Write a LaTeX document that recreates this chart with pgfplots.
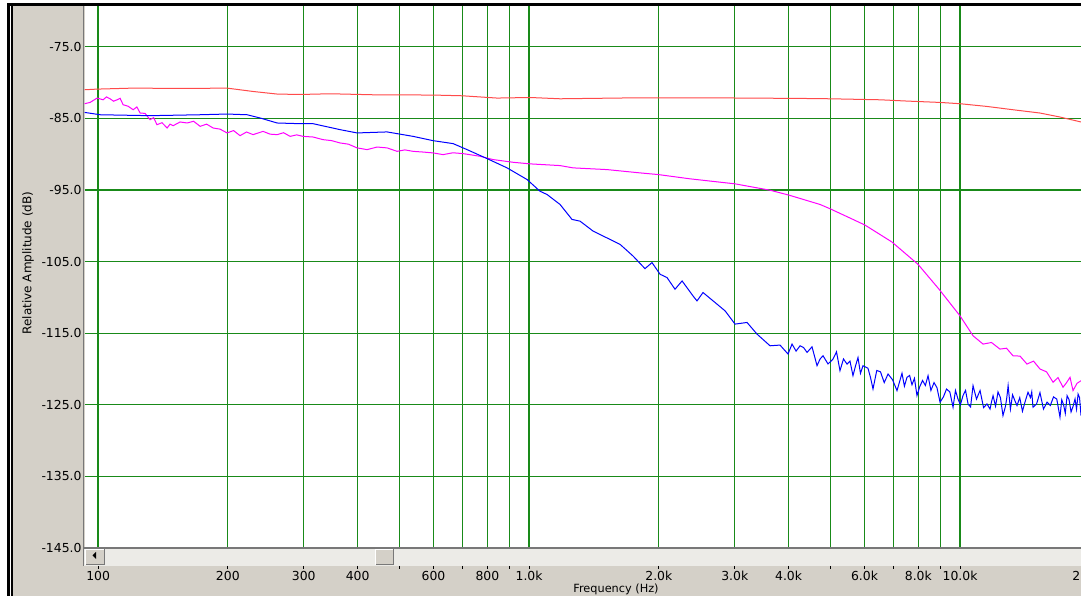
\documentclass[border=0pt]{standalone}
\usepackage{pgfplots}
\pgfplotsset{compat=1.18}
\usepackage{fontspec}
\setmainfont{DejaVu Sans}
\definecolor{panel}{RGB}{212,208,200}
\definecolor{gridgreen}{RGB}{25,138,25}
\definecolor{cred}{RGB}{255,75,75}
\definecolor{cmag}{RGB}{255,0,255}
\definecolor{cblue}{RGB}{0,0,255}
\definecolor{sbar}{RGB}{236,235,231}
\definecolor{darkedge}{RGB}{120,120,120}
\newcommand{\lbl}{\fontsize{11.3}{13}\selectfont}
\newcommand{\tlbl}{\fontsize{12.4}{14}\selectfont}

\pgfplotstableread{
f db
93.0 -81.00
99.5 -80.91
120.6 -80.77
157.5 -80.82
199.2 -80.77
228.9 -81.24
260.2 -81.60
294.3 -81.66
345.3 -81.56
434.6 -81.70
598.8 -81.74
699.1 -81.84
842.8 -82.16
1005 -82.08
1180 -82.26
1809 -82.12
2494 -82.12
4254 -82.21
4994 -82.26
6522 -82.40
7534 -82.58
8988 -82.77
10000 -82.95
11550 -83.33
13270 -83.79
15330 -84.25
17060 -84.81
19090 -85.50
}\redtab

\pgfplotstableread{
f db
93.0 -82.95
95.8 -82.77
99.5 -82.16
102.7 -82.40
104.6 -82.00
106.6 -82.26
108.6 -82.60
110.7 -82.40
112.5 -82.20
114.3 -83.09
117.4 -83.30
120.6 -83.79
123.0 -83.40
125.2 -84.25
128.5 -84.30
132.0 -85.18
134.5 -84.90
137.0 -85.88
140.7 -85.60
144.6 -86.34
146.9 -85.80
149.3 -86.02
155.0 -85.50
160.9 -85.64
166.6 -85.40
172.5 -86.11
178.6 -85.80
184.9 -86.34
191.9 -86.50
199.2 -87.03
206.2 -86.70
213.5 -87.41
221.0 -86.90
228.9 -87.27
241.4 -86.81
250.6 -87.20
260.2 -87.27
269.4 -87.00
279.0 -87.51
289.0 -87.30
299.0 -87.51
315.4 -87.60
332.7 -87.97
348.0 -88.10
364.3 -88.43
381.0 -88.60
399.0 -89.12
420.9 -89.36
444.0 -89.00
468.3 -89.12
494.0 -89.60
515.0 -89.40
538.2 -89.60
568.0 -89.70
598.8 -89.82
631.7 -90.06
666.0 -89.80
702.9 -89.92
735.0 -90.10
769.6 -90.29
825.0 -90.75
918.3 -91.13
1005 -91.35
1180 -91.59
1265 -91.91
1517 -92.15
1809 -92.61
1992 -92.84
2363 -93.44
3006 -94.14
3624 -95.03
4011 -95.72
4733 -97.02
4994 -97.62
5645 -99.11
6019 -99.90
6954 -102.27
7991 -105.38
8940 -108.86
10000 -112.58
10720 -115.36
11310 -116.52
11830 -116.30
12380 -117.22
12820 -117.10
13270 -118.15
13780 -118.20
14300 -119.31
14810 -118.90
15330 -120.00
15880 -120.40
16440 -121.85
16880 -121.20
17340 -122.55
17670 -121.90
18000 -121.16
18290 -123.02
18690 -122.00
19090 -121.63
}\magtab

\pgfplotstableread{
f db
93.0 -84.16
101.1 -84.49
132.0 -84.62
172.5 -84.49
199.2 -84.39
221.7 -84.49
237.6 -84.94
260.2 -85.64
294.3 -85.74
315.4 -85.74
364.3 -86.57
399.0 -87.03
468.3 -86.89
538.2 -87.51
598.8 -88.11
666.4 -88.52
718.0 -89.36
799.0 -90.61
889.1 -91.91
989.5 -93.54
1060 -95.17
1101 -95.63
1180 -97.02
1258 -99.11
1313 -99.35
1408 -100.74
1541 -101.90
1626 -102.59
1743 -104.22
1858 -105.98
1929 -105.14
2014 -106.77
2090 -107.23
2181 -108.86
2265 -107.70
2401 -109.79
2453 -110.49
2533 -109.32
2731 -110.95
2850 -111.88
3006 -113.73
3205 -113.50
3381 -115.13
3624 -116.76
3823 -116.66
3990 -117.91
4076 -116.52
4165 -117.50
4254 -116.76
4335 -117.00
4416 -117.68
4535 -116.90
4658 -119.54
4735 -118.60
4810 -118.15
4940 -119.30
5074 -118.61
5169 -117.60
5266 -120.24
5365 -118.60
5467 -119.31
5555 -118.90
5645 -120.93
5720 -119.60
5798 -118.40
5875 -120.60
5955 -119.54
6116 -119.90
6200 -121.20
6282 -122.79
6410 -120.20
6539 -120.40
6670 -121.90
6808 -120.70
6973 -121.50
7142 -123.02
7335 -120.60
7430 -122.40
7534 -121.16
7640 -120.90
7738 -122.20
7840 -121.30
7947 -123.72
8060 -122.50
8185 -121.60
8310 -122.30
8430 -120.93
8560 -123.00
8704 -121.90
8840 -122.60
8988 -124.64
9150 -123.90
9305 -122.80
9470 -123.20
9634 -125.34
9760 -123.00
9893 -124.20
10020 -125.00
10160 -123.72
10300 -123.00
10440 -124.90
10580 -125.30
10720 -122.33
10920 -124.20
11130 -123.00
11340 -125.40
11550 -124.88
11740 -125.60
11830 -124.60
11930 -123.72
12090 -125.20
12250 -123.20
12410 -124.00
12580 -126.51
12750 -125.20
12840 -124.00
12930 -122.33
13090 -125.60
13240 -123.60
13400 -124.40
13560 -125.11
13760 -124.00
13960 -125.90
14170 -124.50
14380 -123.25
14570 -124.00
14670 -123.20
14770 -125.34
15050 -124.90
15330 -123.30
15620 -125.60
15920 -124.64
16200 -125.10
16480 -123.90
16770 -124.20
17060 -126.73
17220 -124.30
17390 -125.00
17550 -126.20
17720 -123.72
17910 -124.30
18100 -126.00
18300 -125.20
18490 -124.18
18640 -125.60
18790 -123.50
18940 -124.00
19090 -126.51
}\bluetab

\begin{document}
\begin{tikzpicture}
\fill[white] (0pt,0pt) rectangle (1081pt,596pt);
\fill[panel] (12pt,0pt) rectangle (1081pt,590pt);
\fill[black] (7pt,0pt) rectangle (9.5pt,592.5pt);
\fill[black] (11pt,0pt) rectangle (12.5pt,592.5pt);
\fill[black] (7pt,589.5pt) rectangle (1081pt,592.5pt);
\draw[darkedge, line width=1pt] (83pt,30pt) -- (83pt,590pt);

\begin{axis}[
  at={(84.5pt,48pt)}, anchor=south west,
  scale only axis, width=996.5pt, height=542pt,
  xmode=log, xmin=93, xmax=19090,
  ymin=-145, ymax=-69.3,
  axis background/.style={fill=white},
  axis line style={draw=none},
  xtick={100,200,300,400,500,600,700,800,900,1000,2000,3000,4000,5000,6000,7000,8000,9000,10000},
  xticklabels={},
  ytick={-145,-135,-125,-115,-105,-95,-85,-75},
  yticklabels={-145.0,-135.0,-125.0,-115.0,-105.0,-95.0,-85.0,-75.0},
  grid=major,
  major grid style={color=gridgreen, line width=1.3pt},
  tick style={draw=none},
  yticklabel style={font=\tlbl, anchor=east, xshift=0.5pt},
  /pgf/number format/assume math mode=true,
]
\addplot[cred, line width=1pt] table[x=f, y=db] {\redtab};
\addplot[cmag, line width=1pt] table[x=f, y=db] {\magtab};
\addplot[cblue, line width=1pt] table[x=f, y=db] {\bluetab};
\end{axis}

% scrollbar
\fill[sbar] (84pt,30pt) rectangle (1081pt,48pt);
\draw[darkedge, line width=1.2pt] (84pt,48pt) -- (1081pt,48pt);
\fill[panel] (85pt,31pt) rectangle (105pt,47pt);
\draw[white, line width=1pt] (85.5pt,31pt) -- (85.5pt,46.5pt) -- (105pt,46.5pt);
\draw[darkedge, line width=1pt] (85.5pt,31.5pt) -- (104.5pt,31.5pt) -- (104.5pt,46.5pt);
\fill[black] (92.5pt,40.5pt) -- (96pt,44pt) -- (96pt,37pt) -- cycle;
\fill[panel] (375pt,31pt) rectangle (393.5pt,47pt);
\draw[white, line width=1pt] (375.5pt,31pt) -- (375.5pt,46.5pt) -- (393.5pt,46.5pt);
\draw[darkedge, line width=1pt] (375.5pt,31.5pt) -- (393pt,31.5pt) -- (393pt,46.5pt);

\begin{axis}[
  at={(84.5pt,26pt)}, anchor=south west,
  scale only axis, width=1009.9pt, height=4pt,
  xmode=log, xmin=93, xmax=20500, ymin=0, ymax=1,
  axis line style={draw=none},
  ytick={0.5}, yticklabels={}, ytick style={draw=none},
  xtick={100,200,300,400,500,600,700,800,900,1000,2000,3000,4000,5000,6000,7000,8000,9000,10000,20000},
  xticklabels={100,200,300,400,{},600,{},800,{},1.0k,2.0k,3.0k,4.0k,{},6.0k,{},8.0k,{},10.0k,20.0k},
  xtick pos=upper, tick align=inside, major tick length=3pt,
  xticklabel pos=lower,
  xtick style={black, line width=0.8pt},
  xticklabel style={font=\tlbl, inner sep=1pt},
  /pgf/number format/assume math mode=true,
]
\addplot[draw=none] coordinates {(1000,0.5) (2000,0.5)};
\end{axis}

\node[font=\lbl] at (616pt,7pt) {Frequency (Hz)};
\node[font=\fontsize{12}{14}\selectfont, rotate=90] at (28pt,333pt) {Relative Amplitude (dB)};
\pgfresetboundingbox
\useasboundingbox (0pt,0pt) rectangle (1081pt,596pt);
\end{tikzpicture}
\end{document}
